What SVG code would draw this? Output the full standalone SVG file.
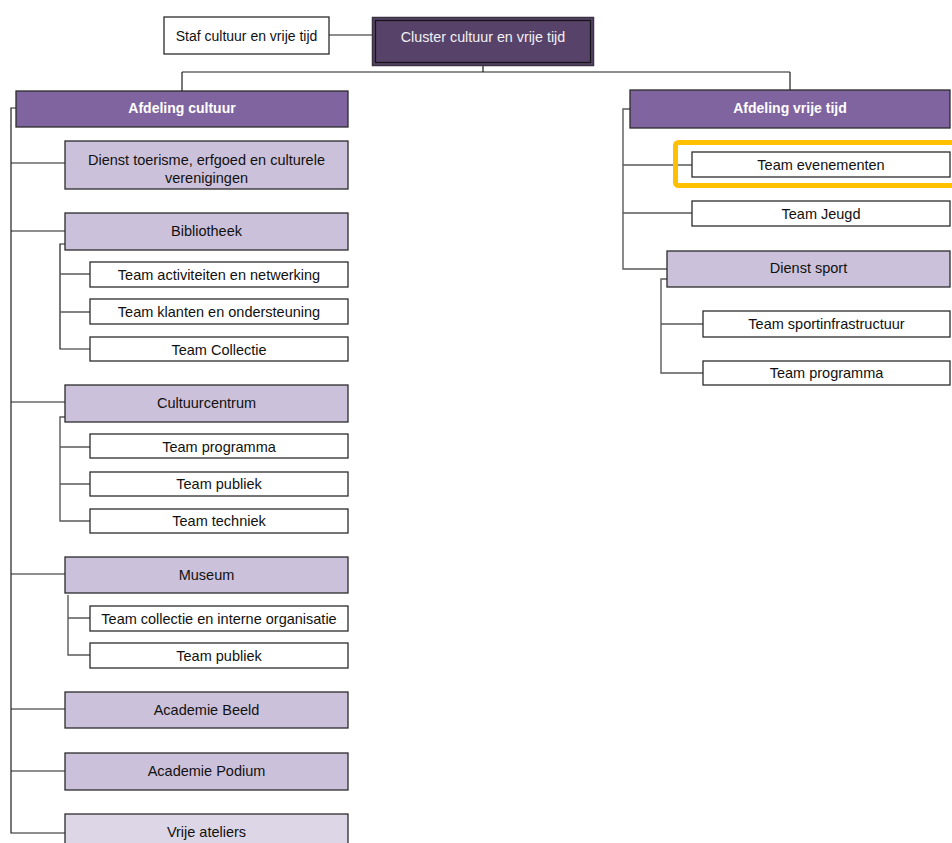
<svg xmlns="http://www.w3.org/2000/svg" width="952" height="843" viewBox="0 0 952 843">
<style>
.box{stroke:#2b2b2b;stroke-width:1.3}
.w{fill:#ffffff}
.lp{fill:#ccc1da}
.af{fill:#8064a0}
.t{font-family:"Liberation Sans",Arial,sans-serif;font-size:14.5px;fill:#111;text-anchor:middle}
.tb{font-family:"Liberation Sans",Arial,sans-serif;font-size:14px;font-weight:bold;fill:#ffffff;text-anchor:middle}
.c{fill:none;stroke:#1e1e1e;stroke-width:1.2}
.g{fill:none;stroke:#5a5a5a;stroke-width:1.4}
</style>
<rect width="952" height="843" fill="#ffffff"/>
<g id="connectors">
<path class="c" d="M329 35H372"/>
<path class="c" d="M483 66V72M182 72H790M182 72V91M790 72V90"/>
<path class="c" d="M16 108H11V833H65M11 163H65M11 231H65M11 402H65M11 574H65M11 709H65M11 771H65"/>
<path class="c" d="M66 244H60V349H90"/>
<path class="g" d="M60 274H90M60 312H90"/>
<path class="g" d="M66 417H60V521H90M60 447H90M60 484H90"/>
<path class="g" d="M68 595V655H90M68 618H90"/>
<path class="g" d="M630 109H623V269H667M623 165H692M623 213H692"/>
<path class="g" d="M667 279H661V373H703M661 324H703"/>
</g>
<g id="staf"><rect class="box w" x="164" y="17" width="165" height="37"/><text x="246.5" y="40.5" font-family="Liberation Sans,Arial,sans-serif" font-size="14" fill="#111" text-anchor="middle">Staf cultuur en vrije tijd</text></g>
<g id="cluster"><rect x="372.5" y="17.5" width="221" height="48" fill="#574369" stroke="#3a3340" stroke-width="1.5"/><rect x="375.5" y="20.5" width="215" height="42" fill="none" stroke="#151515" stroke-width="1.3"/><text x="483" y="42" font-family="Liberation Sans,Arial,sans-serif" font-size="14.3" fill="#f2f0f4" text-anchor="middle">Cluster cultuur en vrije tijd</text></g>
<g id="afd-cultuur"><rect class="box af" x="16" y="91" width="332" height="36"/><text class="tb" x="182" y="113">Afdeling cultuur</text></g>
<g id="dienst-toerisme"><rect class="box lp" x="65" y="141" width="283" height="48"/><text class="t" x="206.5" y="165">Dienst toerisme, erfgoed en culturele</text><text class="t" x="206.5" y="183">verenigingen</text></g>
<g id="bibliotheek"><rect class="box lp" x="65" y="213" width="283" height="37"/><text class="t" x="206.5" y="236">Bibliotheek</text></g>
<g id="bib-t1"><rect class="box w" x="90" y="262" width="258" height="25"/><text class="t" x="219" y="279.5">Team activiteiten en netwerking</text></g>
<g id="bib-t2"><rect class="box w" x="90" y="299" width="258" height="25"/><text class="t" x="219" y="317">Team klanten en ondersteuning</text></g>
<g id="bib-t3"><rect class="box w" x="90" y="337" width="258" height="24"/><text class="t" x="219" y="354.5">Team Collectie</text></g>
<g id="cultuurcentrum"><rect class="box lp" x="65" y="385" width="283" height="37"/><text class="t" x="206.5" y="408">Cultuurcentrum</text></g>
<g id="cc-t1"><rect class="box w" x="90" y="434" width="258" height="24"/><text class="t" x="219" y="451.5">Team programma</text></g>
<g id="cc-t2"><rect class="box w" x="90" y="472" width="258" height="24"/><text class="t" x="219" y="489">Team publiek</text></g>
<g id="cc-t3"><rect class="box w" x="90" y="509" width="258" height="24"/><text class="t" x="219" y="526">Team techniek</text></g>
<g id="museum"><rect class="box lp" x="65" y="557" width="283" height="36"/><text class="t" x="206.5" y="579.5">Museum</text></g>
<g id="mu-t1"><rect class="box w" x="90" y="606" width="258" height="25"/><text class="t" x="219" y="623.5">Team collectie en interne organisatie</text></g>
<g id="mu-t2"><rect class="box w" x="90" y="643" width="258" height="25"/><text class="t" x="219" y="660.5">Team publiek</text></g>
<g id="academie-beeld"><rect class="box lp" x="65" y="692" width="283" height="36"/><text class="t" x="206.5" y="714.5">Academie Beeld</text></g>
<g id="academie-podium"><rect class="box lp" x="65" y="753" width="283" height="37"/><text class="t" x="206.5" y="776">Academie Podium</text></g>
<g id="vrije-ateliers"><rect x="65" y="814" width="283" height="40" fill="#ddd6e6" stroke="#2b2b2b" stroke-width="1.3"/><text class="t" x="206.5" y="837">Vrije ateliers</text></g>
<g id="afd-vrije-tijd"><rect class="box af" x="630" y="90" width="320" height="38"/><text class="tb" x="790" y="113">Afdeling vrije tijd</text></g>
<g id="team-evenementen"><rect class="box w" x="692" y="152" width="258" height="25"/><text class="t" x="821" y="169.5">Team evenementen</text><rect x="675.5" y="142.5" width="290" height="43" rx="3" fill="none" stroke="#ffc000" stroke-width="5"/></g>
<g id="team-jeugd"><rect class="box w" x="692" y="201" width="258" height="25"/><text class="t" x="821" y="218.5">Team Jeugd</text></g>
<g id="dienst-sport"><rect class="box lp" x="667" y="251" width="283" height="36"/><text class="t" x="808.5" y="273">Dienst sport</text></g>
<g id="sp-t1"><rect class="box w" x="703" y="311" width="247" height="26"/><text class="t" x="826.5" y="329">Team sportinfrastructuur</text></g>
<g id="sp-t2"><rect class="box w" x="703" y="361" width="247" height="24"/><text class="t" x="826.5" y="378">Team programma</text></g>
</svg>
